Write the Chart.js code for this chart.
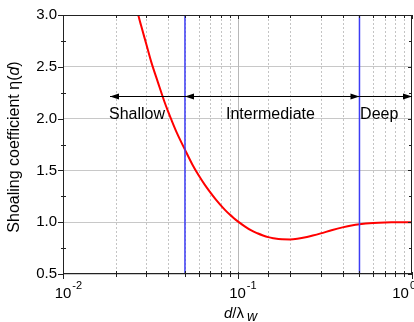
<!DOCTYPE html>
<html><head><meta charset="utf-8">
<script src="https://cdn.jsdelivr.net/npm/chart.js@4"></script>
<style>html,body{margin:0;padding:0;background:#fff}#wrap{width:414px;height:322px}canvas{display:block}</style>
</head><body>
<div id="wrap"><canvas id="c" width="414" height="322"></canvas></div>
<script>
// ---- data ----
const depthRatio = [0.025,0.026,0.027,0.028,0.03,0.032,0.035,0.038,0.04,0.042,0.045,0.05,0.055,0.06,0.065,0.07,0.075,0.08,0.085,0.09,0.095,0.1,0.11,0.12,0.13,0.14,0.15,0.16,0.18,0.2,0.22,0.25,0.27,0.3,0.35,0.4,0.45,0.5,0.6,0.7,0.8,0.9,1.0];
const shoalingEta = [3.24,3.12,3.00,2.90,2.72,2.55,2.35,2.17,2.07,1.98,1.86,1.70,1.56,1.45,1.36,1.285,1.22,1.165,1.117,1.076,1.041,1.01,0.96,0.92,0.893,0.872,0.856,0.846,0.835,0.834,0.84,0.857,0.871,0.892,0.925,0.95,0.969,0.981,0.993,0.998,0.999,1.0,1.0];
const boundaryRatio = [0.05, 0.5];
const yTickValues = [0.5,1.0,1.5,2.0,2.5,3.0];
const yMinorValues = [0.75,1.25,1.75,2.25,2.75];
const xDecades = [0.01, 0.1, 1];
const xDecadeExponents = ['-2','-1','0'];
const regionNames = ['Shallow','Intermediate','Deep'];
const regionLabelStart = [0.01835, 0.0859, 0.504];
const regionLabelLevel = 2.0;
const arrowFrom = [0.05, 0.05, 0.5];
const arrowTo = [0.0186, 0.5, 1.0];
const arrowHeadAtFrom = [false, true, false];
const arrowHeadAtTo = [true, true, true];
const arrowLevel = 2.215;

const FONT = '"Liberation Sans", Arial, sans-serif';

const decor = {
  id: 'decor',
  beforeDatasetsDraw(chart) {
    const {ctx, chartArea: a, scales: {x}} = chart;
    ctx.save();
    x.ticks.forEach(t => {
      const px = Math.round(x.getPixelForValue(t.value)) + 0.5;
      const major = xDecades.some(d => Math.abs(d - t.value) / d < 1e-6);
      if (px < a.left + 1 || px > a.right - 1) return;
      ctx.beginPath();
      ctx.lineWidth = 1;
      if (major) { ctx.setLineDash([]); ctx.strokeStyle = '#b8b8b8'; }
      else { ctx.setLineDash([2, 2]); ctx.strokeStyle = '#c4c4c4'; }
      ctx.moveTo(px, a.top); ctx.lineTo(px, a.bottom); ctx.stroke();
    });
    ctx.restore();
  },
  afterDatasetsDraw(chart) {
    const {ctx, chartArea: a, scales: {x, y}} = chart;
    ctx.save();
    ctx.setLineDash([]);
    ctx.strokeStyle = '#222';
    ctx.lineWidth = 1;
    ctx.strokeRect(a.left + 0.5, a.top + 0.5, a.right - a.left - 1, a.bottom - a.top - 1);
    x.ticks.forEach(t => {
      const px = Math.round(x.getPixelForValue(t.value)) + 0.5;
      const major = xDecades.some(d => Math.abs(d - t.value) / d < 1e-6);
      ctx.beginPath();
      if (major) {
        ctx.moveTo(px, a.bottom - 2); ctx.lineTo(px, a.bottom + 5);
        ctx.moveTo(px, a.top); ctx.lineTo(px, a.top + 4);
      } else {
        ctx.moveTo(px, a.bottom - 3); ctx.lineTo(px, a.bottom + 3);
        ctx.moveTo(px, a.top); ctx.lineTo(px, a.top + 3);
      }
      ctx.stroke();
    });
    yTickValues.forEach(v => {
      const py = Math.round(y.getPixelForValue(v)) + 0.5;
      ctx.beginPath();
      ctx.moveTo(a.left - 5, py); ctx.lineTo(a.left + 1, py);
      ctx.moveTo(a.right - 4, py); ctx.lineTo(a.right, py);
      ctx.stroke();
    });
    yMinorValues.forEach(v => {
      const py = Math.round(y.getPixelForValue(v)) + 0.5;
      ctx.beginPath();
      ctx.moveTo(a.left - 2, py); ctx.lineTo(a.left + 3, py);
      ctx.moveTo(a.right - 3, py); ctx.lineTo(a.right, py);
      ctx.stroke();
    });
    ctx.strokeStyle = '#000'; ctx.fillStyle = '#000';
    const ay = Math.round(y.getPixelForValue(arrowLevel)) + 0.5;
    const head = (tipX, dir) => {
      ctx.beginPath();
      ctx.moveTo(tipX, ay);
      ctx.lineTo(tipX - dir * 9, ay - 3);
      ctx.lineTo(tipX - dir * 9, ay + 3);
      ctx.closePath(); ctx.fill();
    };
    arrowFrom.forEach((f, i) => {
      const x0 = x.getPixelForValue(f), x1 = x.getPixelForValue(arrowTo[i]);
      ctx.beginPath(); ctx.lineWidth = 1;
      ctx.moveTo(x0, ay); ctx.lineTo(x1, ay); ctx.stroke();
      const dir = Math.sign(x1 - x0);
      if (arrowHeadAtTo[i]) head(x1, dir);
      if (arrowHeadAtFrom[i]) head(x0, -dir);
    });
    ctx.font = '16px ' + FONT;
    ctx.textAlign = 'left'; ctx.textBaseline = 'alphabetic';
    regionNames.forEach((n, i) => {
      ctx.fillText(n, x.getPixelForValue(regionLabelStart[i]), y.getPixelForValue(regionLabelLevel));
    });
    ctx.fillStyle = '#000';
    xDecades.forEach((d, i) => {
      const px = x.getPixelForValue(d);
      ctx.font = '15px ' + FONT;
      const w = ctx.measureText('10').width;
      ctx.font = '11px ' + FONT;
      const sw = ctx.measureText(xDecadeExponents[i]).width;
      let cx = px;
      const right = cx + w / 2 + 1 + sw;
      if (right > chart.width + 2) cx -= right - (chart.width + 2);
      ctx.font = '15px ' + FONT; ctx.textAlign = 'center';
      ctx.fillText('10', cx, 298);
      ctx.font = '11px ' + FONT; ctx.textAlign = 'left';
      ctx.fillText(xDecadeExponents[i], cx + w / 2 + 1, 289);
    });
    ctx.textAlign = 'left';
    let tx = 224;
    ctx.font = 'italic 15px ' + FONT; ctx.fillText('d', tx, 318); tx += ctx.measureText('d').width;
    ctx.font = '15px ' + FONT; ctx.fillText('/\u03bb', tx, 318); tx += ctx.measureText('/\u03bb').width + 3;
    ctx.font = 'italic 14px ' + FONT; ctx.fillText('w', tx, 321);
    ctx.save();
    ctx.translate(19, 147);
    ctx.rotate(-Math.PI / 2);
    const p1 = 'Shoaling coefficient \u03b7(', p2 = 'd', p3 = ')';
    ctx.font = '16px ' + FONT; const w1 = ctx.measureText(p1).width, w3 = ctx.measureText(p3).width;
    ctx.font = 'italic 16px ' + FONT; const w2 = ctx.measureText(p2).width;
    let sx = -(w1 + w2 + w3) / 2;
    ctx.font = '16px ' + FONT; ctx.fillText(p1, sx, 0); sx += w1;
    ctx.font = 'italic 16px ' + FONT; ctx.fillText(p2, sx, 0); sx += w2;
    ctx.font = '16px ' + FONT; ctx.fillText(p3, sx, 0);
    ctx.restore();
    ctx.restore();
  }
};

const boundarySets = boundaryRatio.map(b => ({
  data: [{x: b, y: yTickValues[0]}, {x: b, y: yTickValues[yTickValues.length - 1]}],
  borderColor: '#3c3cf5', borderWidth: 1.5, pointRadius: 0, fill: false
}));

new Chart(document.getElementById('c'), {
  type: 'line',
  data: {
    datasets: [
      ...boundarySets,
      {
        data: depthRatio.map((r, i) => ({x: r, y: shoalingEta[i]})),
        borderColor: '#ff0000', borderWidth: 2, pointRadius: 0, fill: false,
        cubicInterpolationMode: 'monotone'
      }
    ]
  },
  options: {
    responsive: false, animation: false,
    layout: {padding: {top: 12, right: 2, left: 0, bottom: 0}},
    plugins: {legend: {display: false}, tooltip: {enabled: false}},
    scales: {
      x: {
        type: 'logarithmic', min: 0.01, max: 1,
        ticks: {display: false},
        grid: {display: false}, border: {display: false},
        afterFit(s) { s.height = 48; }
      },
      y: {
        min: 0.5, max: 3.0,
        ticks: {stepSize: 0.5, padding: 6, color: '#000', font: {family: FONT, size: 15},
          callback: v => Number(v).toFixed(1)},
        grid: {color: '#c8c8c8', drawTicks: false, lineWidth: 1},
        border: {display: false},
        afterFit(s) { s.width = 63; }
      }
    }
  },
  plugins: [decor]
});
</script>
</body></html>
